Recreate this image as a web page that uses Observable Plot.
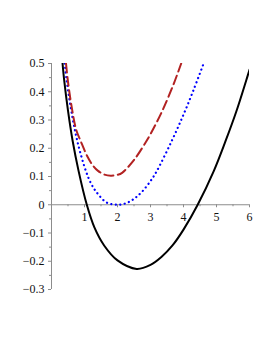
<!DOCTYPE html>
<html>
<head>
<meta charset="utf-8">
<script src="https://cdn.jsdelivr.net/npm/d3@7"></script>
<script src="https://cdn.jsdelivr.net/npm/@observablehq/plot@0.6"></script>
<style>
  html, body { margin: 0; padding: 0; background: #fff; }
</style>
</head>
<body>
<div id="chart"></div>
<script>
// Solid black curve
const blackX = [0.335, 0.385, 0.50, 0.64, 0.82, 1.07, 1.30, 1.60, 2.0, 2.58, 3.0, 3.33, 3.66, 4.0, 4.43, 4.92, 5.27, 5.6, 5.9, 6.0];
const blackY = [0.5, 0.44, 0.333, 0.2265, 0.12, 0, -0.08, -0.145, -0.197, -0.227, -0.213, -0.185, -0.145, -0.088, 0, 0.12, 0.224, 0.33, 0.44, 0.478];
// Dashed brown curve
const brownX = [0.44, 0.50, 0.63, 0.75, 0.88, 1.10, 1.28, 1.41, 1.60, 1.80, 2.0, 2.14, 2.49, 2.86, 3.0, 3.36, 3.71, 3.93];
const brownY = [0.5, 0.435, 0.333, 0.265, 0.2265, 0.168, 0.135, 0.12, 0.107, 0.103, 0.106, 0.113, 0.157, 0.222, 0.25, 0.333, 0.43, 0.5];
// Dotted blue curve
const blueX = [0.40, 0.46, 0.60, 0.78, 1.04, 1.20, 1.36, 1.67, 2.0, 2.25, 2.5, 2.75, 3.0, 3.18, 3.64, 4.0, 4.3, 4.6];
const blueY = [0.5, 0.439, 0.333, 0.2265, 0.12, 0.075, 0.045, 0.008, 0, 0.005, 0.021, 0.047, 0.084, 0.117, 0.225, 0.319, 0.405, 0.497];

const xTicks = [1, 2, 3, 4, 5, 6];
const xMinor = [0.5, 1.5, 2.5, 3.5, 4.5, 5.5];
const yTicks = [0.5, 0.4, 0.3, 0.2, 0.1, 0, -0.1, -0.2, -0.3];
const yMinor = [0.45, 0.35, 0.25, 0.15, 0.05, -0.05, -0.15, -0.25];

const toPts = (xs, ys) => xs.map((x, i) => ({x, y: ys[i]}));
const fmtY = d => d === 0 ? "0" : (d < 0 ? "\u2212" : "") + Math.abs(d).toFixed(1);

const axisColor = "#8c8c8c";
const font = "'Liberation Serif', 'DejaVu Serif', serif";

const chart = Plot.plot({
  width: 273,
  height: 353,
  marginLeft: 51,
  marginRight: 24,
  marginTop: 63,
  marginBottom: 64,
  style: {background: "#fff"},
  x: {domain: [0, 6], axis: null},
  y: {domain: [-0.3, 0.5], axis: null},
  marks: [
    // axis lines
    Plot.ruleY([0], {x1: 0, x2: 6, stroke: axisColor, strokeWidth: 1}),
    Plot.ruleX([0], {y1: -0.3, y2: 0.5, stroke: axisColor, strokeWidth: 1}),
    // x ticks
    Plot.ruleX(xTicks, {x: d => d, y1: 0, y2: 0, insetBottom: -3, stroke: axisColor}),
    Plot.ruleX(xMinor, {x: d => d, y1: 0, y2: 0, insetBottom: -2, stroke: axisColor}),
    // y ticks
    Plot.ruleY(yTicks, {y: d => d, x1: 0, x2: 0, insetLeft: -3, stroke: axisColor}),
    Plot.ruleY(yMinor, {y: d => d, x1: 0, x2: 0, insetLeft: -2, stroke: axisColor}),
    // labels
    Plot.text(xTicks, {x: d => d, y: 0, dy: 12, text: d => String(d), fill: "#111", fontSize: 12, fontFamily: font}),
    Plot.text(yTicks, {x: 0, y: d => d, dx: -7, textAnchor: "end", text: fmtY, fill: "#111", fontSize: 12, fontFamily: font}),
    // curves
    Plot.line(toPts(blueX, blueY), {x: "x", y: "y", curve: "catmull-rom", stroke: "#0000ff", strokeWidth: 2.2, strokeDasharray: "0.1,4.4", strokeLinecap: "round", clip: true}),
    Plot.line(toPts(brownX, brownY), {x: "x", y: "y", curve: "catmull-rom", stroke: "#b22222", strokeWidth: 2, strokeDasharray: "9,4.5", clip: true}),
    Plot.line(toPts(blackX, blackY), {x: "x", y: "y", curve: "catmull-rom", stroke: "#000", strokeWidth: 2, clip: true})
  ]
});
document.getElementById("chart").appendChild(chart);
</script>
</body>
</html>
